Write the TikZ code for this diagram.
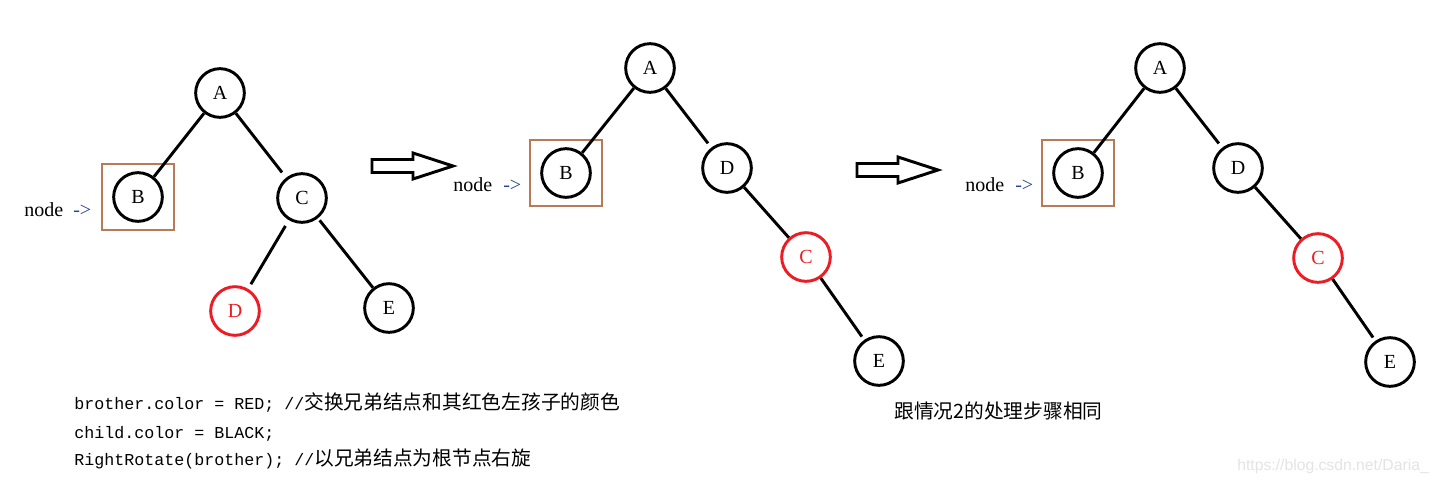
\documentclass[tikz,border=0pt]{standalone}
\usepackage{fontspec}
\setmainfont{Liberation Serif}
\setmonofont{Liberation Mono}
\setsansfont{Liberation Sans}
\newfontfamily\cjk{Noto Sans CJK SC}
\usetikzlibrary{positioning}
\definecolor{rbred}{RGB}{237,28,36}
\definecolor{markbrown}{RGB}{185,122,87}
\definecolor{ptrblue}{RGB}{40,70,140}
\newcommand{\zh}[1]{{\cjk\fontsize{14.8}{18}\selectfont #1}}
\tikzset{
  treenode/.style={circle, draw=black, line width=2.2pt, minimum size=36.5pt,
                   inner sep=0pt, font=\fontsize{15}{18}\selectfont},
  rednode/.style={treenode, draw=rbred, text=rbred},
  branch/.style={line width=2.2pt},
  markbox/.style={draw=markbrown, line width=2.2pt, minimum width=54pt,
                  minimum height=49.5pt, inner sep=0pt},
  ptrtext/.style={anchor=base west, inner sep=0pt, font=\fontsize{15}{18}\selectfont},
  codeline/.style={anchor=base west, inner sep=0pt,
                   font=\ttfamily\fontsize{12.5}{15}\selectfont},
  fatarrow/.pic={\draw[line width=2.2pt, line join=miter]
    (0,-6.5) -- (41,-6.5) -- (41,-13) -- (81,0) -- (41,13) -- (41,6.5) -- (0,6.5) -- cycle;},
}
\begin{document}
\begin{tikzpicture}[x=0.75pt, y=-0.75pt]
  \useasboundingbox (0,0) rectangle (1438,483);

  % --- Tree 1: before ---
  \node[treenode] (a1) at (220,93) {A};
  \node[treenode] (b1) at (138,197) {B};
  \node[treenode] (c1) at (302,198) {C};
  \node[rednode]  (d1) at (235,311) {D};
  \node[treenode] (e1) at (389,308) {E};
  \node[markbox] (box1) at (b1) {};
  \node[ptrtext] (lbl1) at (24,216) {node};
  \node[ptrtext, text=ptrblue] (ptr1) at (73,216) {->};

  \draw[branch] (a1) -- (b1);
  \draw[branch, shorten >=5pt] (a1) -- (c1);
  \draw[branch, shorten <=5pt, shorten >=4pt] (c1) -- (d1);
  \draw[branch, shorten <=2pt] (c1) -- (e1);

  \pic at (372,166) {fatarrow};

  % --- Tree 2: after right rotation ---
  \node[treenode] (a2) at (650,68) {A};
  \node[treenode] (b2) at (566,173) {B};
  \node[treenode] (d2) at (727,168) {D};
  \node[rednode]  (c2) at (806,257) {C};
  \node[treenode] (e2) at (879,361) {E};
  \node[markbox] (box2) at (b2) {};
  \node[ptrtext] (lbl2) at (453,191) {node};
  \node[ptrtext, text=ptrblue] (ptr2) at (503,191) {->};

  \draw[branch] (a2) -- (b2);
  \draw[branch, shorten >=4pt] (a2) -- (d2);
  \draw[branch] (d2) -- (c2);
  \draw[branch, shorten >=3pt] (c2) -- (e2);

  \pic at (857,170) {fatarrow};

  % --- Tree 3: same as case 2 ---
  \node[treenode] (a3) at (1160,68) {A};
  \node[treenode] (b3) at (1078,173) {B};
  \node[treenode] (d3) at (1238,168) {D};
  \node[rednode]  (c3) at (1318,258) {C};
  \node[treenode] (e3) at (1390,362) {E};
  \node[markbox] (box3) at (b3) {};
  \node[ptrtext] (lbl3) at (965,191) {node};
  \node[ptrtext, text=ptrblue] (ptr3) at (1015,191) {->};

  \draw[branch] (a3) -- (b3);
  \draw[branch, shorten >=4pt] (a3) -- (d3);
  \draw[branch] (d3) -- (c3);
  \draw[branch, shorten >=3pt] (c3) -- (e3);

  % --- Notes ---
  \node[codeline] (code1) at (74,409)
    {brother.color = RED; //\zh{交换兄弟结点和其红色左孩子的颜色}};
  \node[codeline] (code2) at (74,438) {child.color = BLACK;};
  \node[codeline] (code3) at (74,465)
    {RightRotate(brother); //\zh{以兄弟结点为根节点右旋}};
  \node[anchor=base west, inner sep=0pt] (same) at (894,418)
    {\zh{跟情况2的处理步骤相同}};
  \node[anchor=base west, inner sep=0pt, text=gray!22,
        font=\sffamily\fontsize{11.8}{14}\selectfont] (mark) at (1237,470)
    {https://blog.csdn.net/Daria\_};
\end{tikzpicture}
\end{document}
